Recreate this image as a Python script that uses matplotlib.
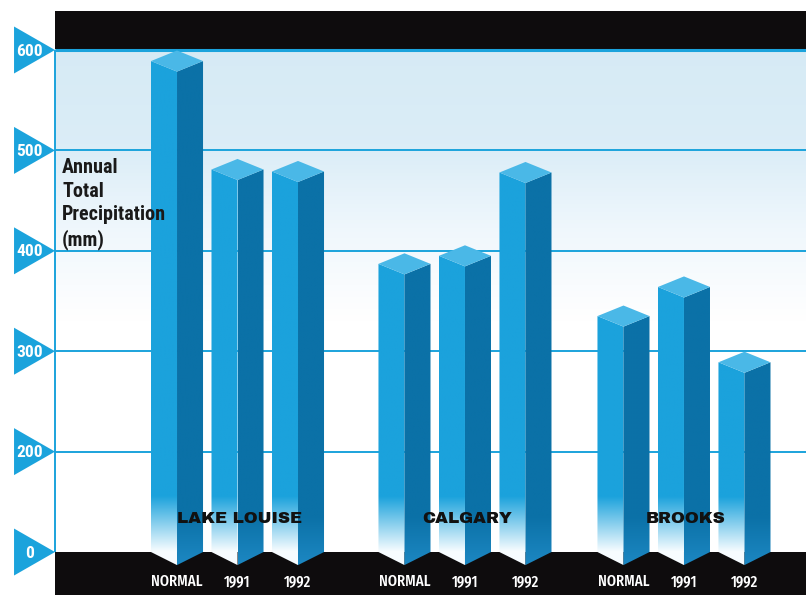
import numpy as np
import matplotlib
matplotlib.use("Agg")
import matplotlib.pyplot as plt
from matplotlib.patches import Polygon, Rectangle
from matplotlib.colors import to_rgb

# ---- data -------------------------------------------------------------
stations = ["LAKE LOUISE", "CALGARY", "BROOKS"]
periods = ["NORMAL", "1991", "1992"]
lake_louise = [589, 481, 479]
calgary = [387, 395, 478]
brooks = [335, 364, 289]
tick_values = [0, 200, 300, 400, 500, 600]
axis_title = "Annual\nTotal\nPrecipitation\n(mm)"

# ---- layout / style ---------------------------------------------------
BASE = 100            # position of the zero line on the broken value axis
TOP = 600
group_starts = [0.0, 3.76, 7.38]
XMIN, XMAX = -2.926, 10.397
YMIN, YMAX = 57.2, 649.8
X_LEFT = -2.017       # left edge of the plotting frame
HW = 0.43             # half width of a column
DV_TOP = 10.5         # depth of the top face
DV_BOT = 13.0         # depth of the foot

COND = ["Roboto Condensed", "DejaVu Sans"]
XCOND = ["Fira Sans Extra Condensed", "Roboto Condensed", "DejaVu Sans"]
HEAVY = ["Archivo Black", "DejaVu Sans"]
BLUE = "#1ba3dc"
FRONT = to_rgb("#1ba2dc")
SIDE = to_rgb("#0b71a7")
LID = "#4ab8e7"
INK = "#0e0c0d"


def tick_pos(v):
    return BASE if v == 0 else v


fig = plt.figure(figsize=(8.06, 5.95), dpi=100)
ax = fig.add_axes([0, 0, 1, 1])
ax.set_xlim(XMIN, XMAX)
ax.set_ylim(YMIN, YMAX)
ax.axis("off")

# sky gradient behind the columns
ys = np.linspace(BASE, TOP, 300)
stops_y = [BASE, 330, 420, 500, 600]
stops_c = np.array([[1, 1, 1], [1, 1, 1], [0.94, 0.97, 0.99],
                    [0.86, 0.93, 0.97], [0.84, 0.92, 0.96]])
grad = np.stack([np.interp(ys, stops_y, stops_c[:, k]) for k in range(3)], axis=-1)
ax.imshow(grad[:, None, :], extent=[X_LEFT, XMAX, BASE, TOP], origin="lower",
          aspect="auto", zorder=0, interpolation="bilinear")

# grid and frame lines
ax.hlines([t for t in tick_values if t not in (0, TOP)], X_LEFT, XMAX,
          color=BLUE, lw=1.4, zorder=1)
ax.hlines(TOP, X_LEFT, XMAX, color=BLUE, lw=2.2, zorder=3)
ax.vlines(X_LEFT, BASE, TOP, color=BLUE, lw=1.4, zorder=1)

# black bands top and bottom
ax.add_patch(Rectangle((X_LEFT, TOP + 1.2), XMAX - X_LEFT, YMAX - TOP - 12.0,
                       color=INK, zorder=2, lw=0))
ax.add_patch(Rectangle((X_LEFT, YMIN - 5), XMAX - X_LEFT, BASE - YMIN + 5,
                       color=INK, zorder=2, lw=0))

# triangular tick markers
for t in tick_values:
    p = tick_pos(t)
    ax.add_patch(Polygon([(X_LEFT - 0.677, p + 23.4), (X_LEFT - 0.677, p - 23.4),
                          (X_LEFT, p)], closed=True, color=BLUE, lw=0, zorder=3))
    ax.text(X_LEFT - 0.42, p - 1.0, str(t), color="white", fontsize=12.5,
            family=COND, fontweight="bold", ha="center", va="center", zorder=4)


def shaded_face(poly, x0, x1, y0, y1, color, fade_to, fade_top, fade_bot):
    """Fill a polygon with a vertical gradient that fades towards its foot."""
    yy = np.linspace(y0, y1, 300)
    w = np.clip((yy - fade_bot) / (fade_top - fade_bot), 0, 1)[:, None]
    col = np.array(fade_to)[None, :] * (1 - w) + np.array(color)[None, :] * w
    patch = Polygon(poly, closed=True, facecolor="none", edgecolor="none", zorder=5)
    ax.add_patch(patch)
    im = ax.imshow(col[:, None, :], extent=[x0, x1, y0, y1], origin="lower",
                   aspect="auto", zorder=5, interpolation="bilinear")
    im.set_clip_path(patch)


series = [lake_louise, calgary, brooks]
for g, (start, name, vals) in enumerate(zip(group_starts, stations, series)):
    for i, (period, v) in enumerate(zip(periods, vals)):
        c = start + i
        foot = BASE - DV_BOT
        left = [(c - HW, BASE), (c, foot), (c, v - DV_TOP), (c - HW, v)]
        right = [(c, foot), (c + HW, BASE), (c + HW, v), (c, v - DV_TOP)]
        lid = [(c - HW, v), (c, v - DV_TOP), (c + HW, v), (c, v + DV_TOP)]
        shaded_face(left, c - HW, c, foot, v, FRONT, (0.97, 0.99, 1.0), 155, 100)
        shaded_face(right, c, c + HW, foot, v, SIDE, (0.11, 0.53, 0.76), 135, 88)
        ax.add_patch(Polygon(lid, closed=True, facecolor=LID, edgecolor="none",
                             zorder=6))
        ax.text(c, 71, period, color="white", fontsize=11.5, family=XCOND,
                fontweight="medium", ha="center", va="center", zorder=7)
    ax.text(start + 1.03, 133, name, color="#111111", fontsize=12,
            family=HEAVY, ha="center", va="center", zorder=8)

ax.text(-1.90, 492, axis_title, color="#1a1a1a", fontsize=14.5, family=COND,
        fontweight="bold", ha="left", va="top", linespacing=1.3, zorder=8)

fig.savefig("out.png", dpi=100)
